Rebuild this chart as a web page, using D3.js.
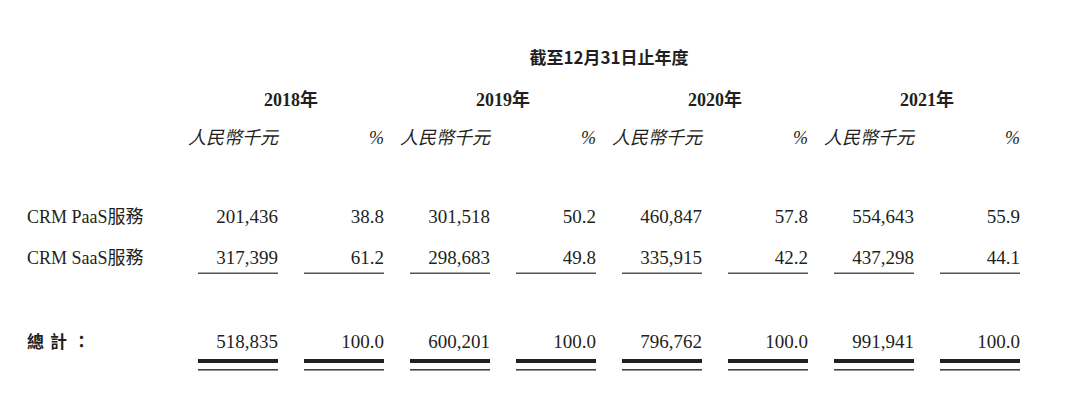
<!DOCTYPE html><html><head><meta charset="utf-8"><script src="https://cdn.jsdelivr.net/npm/d3@7"></script>
<style>body{margin:0;background:#fff}</style></head><body><svg id="c" width="1080" height="413"></svg>
<script>
const years=["2018年","2019年","2020年","2021年"];
const rowLabels=["CRM PaaS服務","CRM SaaS服務"];
const paasAmt=["201,436","301,518","460,847","554,643"];
const paasPct=["38.8","50.2","57.8","55.9"];
const saasAmt=["317,399","298,683","335,915","437,298"];
const saasPct=["61.2","49.8","42.2","44.1"];
const totalAmt=["518,835","600,201","796,762","991,941"];
const totalPct=["100.0","100.0","100.0","100.0"];
const svg=d3.select("#c");
const F="'Liberation Serif','DejaVu Serif',serif", CJK="'Noto Sans CJK TC',serif";
const x=d3.scaleLinear().domain([0,8]).range([198,1046]);
const cw=80, col=i=>x(i);
svg.append("text").attr("x",609).attr("y",64).attr("text-anchor","middle").attr("font-family",CJK).attr("font-weight","bold").attr("font-size",17).attr("fill","#231f20").text("截至12月31日止年度");
years.forEach((y,i)=>{
 svg.append("text").attr("x",(col(2*i)+cw+col(2*i+1))/2).attr("y",106).attr("text-anchor","middle").attr("font-family",F+","+CJK).attr("font-weight","bold").attr("font-size",18).attr("fill","#231f20").text(y);
 svg.append("text").attr("x",col(2*i)+cw).attr("y",144).attr("text-anchor","end").attr("font-family",CJK).attr("font-style","italic").attr("font-size",18).attr("fill","#231f20").attr("transform",`skewX(0)`).text("人民幣千元");
 svg.append("text").attr("x",col(2*i+1)+cw).attr("y",144).attr("text-anchor","end").attr("font-family",F).attr("font-style","italic").attr("font-size",18).attr("fill","#231f20").text("%");
});
const rows=[[paasAmt,paasPct,223],[saasAmt,saasPct,264],[totalAmt,totalPct,348]];
rows.forEach(([a,p,yy])=>{
 a.forEach((v,i)=>{
  svg.append("text").attr("x",col(2*i)+cw).attr("y",yy).attr("text-anchor","end").attr("font-family",F).attr("font-size",19).attr("fill","#231f20").text(v);
  svg.append("text").attr("x",col(2*i+1)+cw).attr("y",yy).attr("text-anchor","end").attr("font-family",F).attr("font-size",19).attr("fill","#231f20").text(p[i]);
 });
});
rowLabels.forEach((l,i)=>svg.append("text").attr("x",27).attr("y",rows[i][2]).attr("font-family",F+","+CJK).attr("font-size",18).attr("fill","#231f20").text(l));
svg.append("text").attr("x",27).attr("y",348).attr("font-family",CJK).attr("font-weight","bold").attr("font-size",17).attr("letter-spacing",6).attr("fill","#231f20").text("總計：");
d3.range(8).forEach(i=>{
 svg.append("rect").attr("x",col(i)).attr("y",272.5).attr("width",cw).attr("height",1.5).attr("fill","#555");
 svg.append("rect").attr("x",col(i)).attr("y",359).attr("width",cw).attr("height",4).attr("fill","#231f20");
 svg.append("rect").attr("x",col(i)).attr("y",369).attr("width",cw).attr("height",1.6).attr("fill","#444");
});
</script></body></html>
